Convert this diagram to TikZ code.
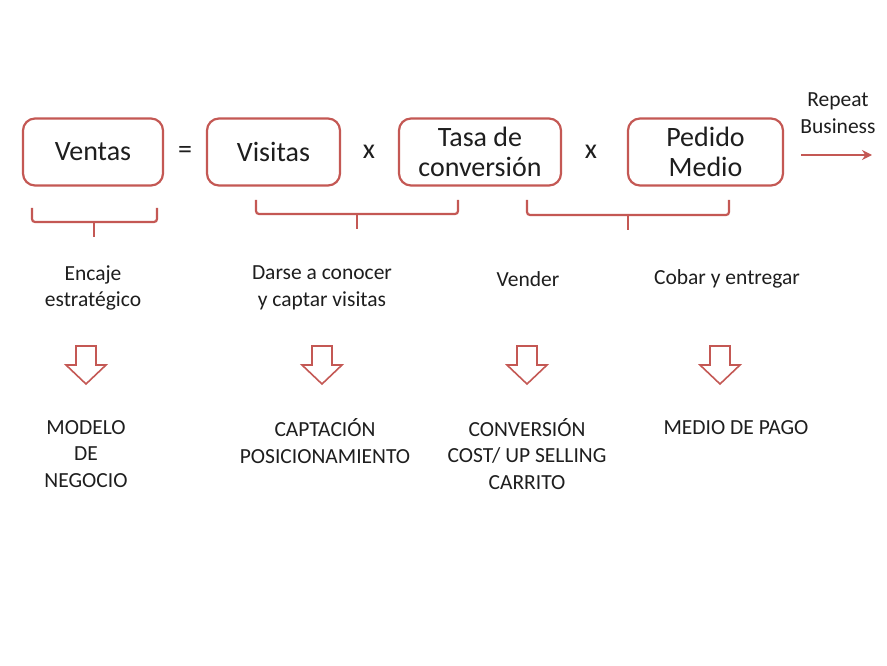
\documentclass[tikz,border=0pt]{standalone}
\usepackage{fontspec}
\setmainfont{Carlito}
\usetikzlibrary{arrows.meta}
\definecolor{boxred}{RGB}{196,88,84}
\definecolor{txtgray}{RGB}{30,30,30}
\tikzset{
    termbox/.style={draw=boxred, line width=2.2pt, rounded corners=12pt, minimum height=67pt, align=center, text=txtgray, font=\fontsize{28}{29.5}\selectfont},
    optext/.style={text=txtgray, font=\fontsize{28}{29}\selectfont},
    steptext/.style={text=txtgray, align=center, font=\fontsize{21.5}{26.5}\selectfont},
    bracket/.style={draw=boxred, line width=2.2pt, rounded corners=3pt},
    hollowarrow/.style={draw=boxred, line width=1.6pt, line join=miter}
}
\begin{document}
\begin{tikzpicture}[x=1pt, y=-1pt]
    \useasboundingbox[fill=white] (0, 0) rectangle (887, 666);

    % equation
    \node[termbox, minimum width=140pt] (ventas) at (93, 152) {Ventas};
    \node[optext] (equals) at (185, 152) {=};
    \node[termbox, minimum width=133pt] (visitas) at (273.5, 152) {Visitas};
    \node[optext] (times1) at (369, 152) {x};
    \node[termbox, minimum width=162pt] (tasa) at (480, 152) {Tasa de\\conversión};
    \node[optext] (times2) at (591, 152) {x};
    \node[termbox, minimum width=155pt] (pedido) at (705.5, 152) {Pedido\\Medio};

    \node[steptext] (repeat) at (838, 113) {Repeat\\Business};
    \coordinate (repstart) at (801, 155);
    \coordinate (repend) at (872, 155);
    \draw[draw=boxred, line width=2.5pt, -{Stealth[length=10pt, width=10pt]}] (repstart) -- (repend);

    % brackets
    \draw[bracket] (32, 208) -- (32, 222) -- (157, 222) -- (157, 208);
    \draw[bracket] (94, 222) -- (94, 237);
    \draw[bracket] (256, 200) -- (256, 214) -- (458, 214) -- (458, 200);
    \draw[bracket] (357, 214) -- (357, 229);
    \draw[bracket] (527, 200) -- (527, 215) -- (729, 215) -- (729, 200);
    \draw[bracket] (628, 215) -- (628, 230);

    % steps
    \node[steptext] (encaje) at (93, 288) {Encaje\\estratégico};
    \node[steptext] (darse) at (322, 288) {Darse a conocer\\y captar visitas};
    \node[steptext] (vender) at (528, 279) {Vender};
    \node[steptext] (cobrar) at (727, 279) {Cobar y entregar};

    % hollow arrows
    \foreach \ax in {86, 322, 527, 720}
        \draw[hollowarrow] (\ax-10, 346) -- (\ax+10, 346) -- (\ax+10, 365) -- (\ax+20, 365) -- (\ax, 384) -- (\ax-20, 365) -- (\ax-10, 365) -- cycle;

    % results
    \node[steptext] (modelo) at (86, 454) {MODELO\\DE\\NEGOCIO};
    \node[steptext] (captacion) at (325, 441) {CAPTACIÓN\\POSICIONAMIENTO};
    \node[steptext] (conversion) at (527, 454) {CONVERSIÓN\\COST/ UP SELLING\\CARRITO};
    \node[steptext] (medio) at (736, 428) {MEDIO DE PAGO};
\end{tikzpicture}
\end{document}
